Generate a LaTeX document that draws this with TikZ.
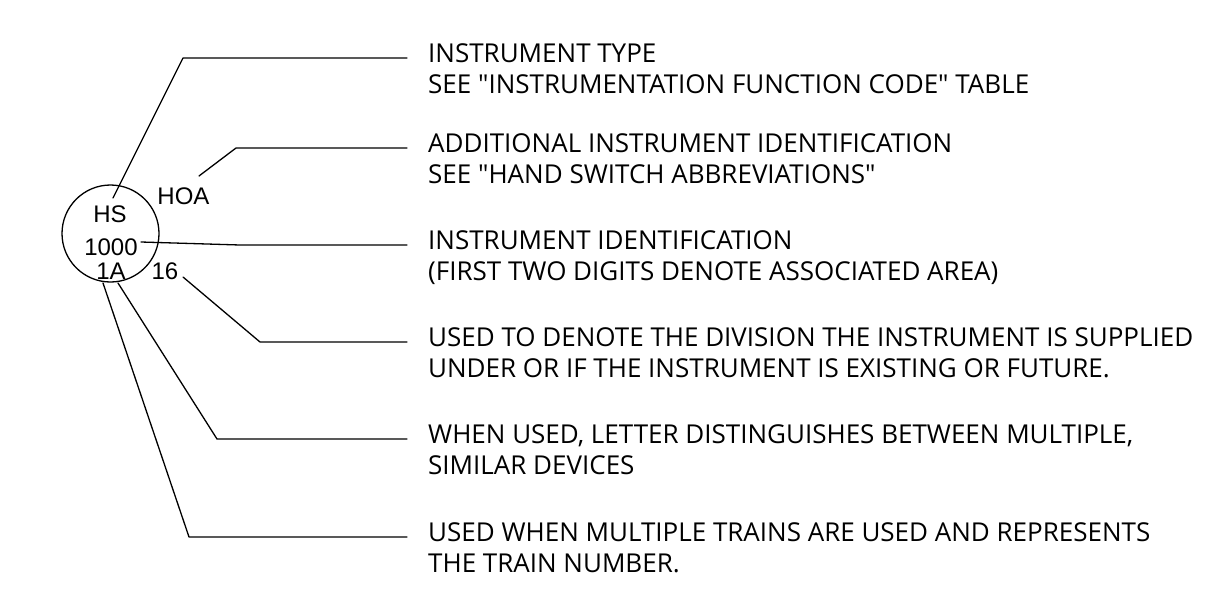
\documentclass[tikz,border=0pt]{standalone}
\usepackage{fontspec}
\setmainfont{Open Sans}[Ligatures=TeXOff]
\newfontfamily\arialfont{Liberation Sans}
\begin{document}
\begin{tikzpicture}[x=1pt,y=-1pt,
  lead/.style={line width=1.3pt,line cap=round,line join=round},
  tag/.style={font=\arialfont\fontsize{24}{28}\selectfont,inner sep=0pt,anchor=base,text height=17pt,text depth=0pt},
  desc/.style={font=\fontsize{26}{31.5}\selectfont,inner sep=0pt,anchor=base west,align=left}]
\useasboundingbox (0,0) rectangle (1209,592);
% bubble
\node[draw,circle,line width=1.3pt,minimum size=97pt,inner sep=0pt] (bubble) at (110.5,233.5) {};
\node[tag] (hs) at (110,222) {HS};
\node[tag] (hoa) at (183.5,204) {HOA};
\node[tag] (num) at (111,255.5) {1000};
\node[tag] (suf) at (111,279) {1A};
\node[tag] (div) at (165,279) {16};
% descriptions (base = last line)
\node[desc] (d1) at (428,93.5) {INSTRUMENT TYPE\\SEE "INSTRUMENTATION FUNCTION CODE" TABLE};
\node[desc] (d2) at (428,183.5) {ADDITIONAL INSTRUMENT IDENTIFICATION\\SEE "HAND SWITCH ABBREVIATIONS"};
\node[desc] (d3) at (428,280.5) {INSTRUMENT IDENTIFICATION\\(FIRST TWO DIGITS DENOTE ASSOCIATED AREA)};
\node[desc] (d4) at (428,377.5) {USED TO DENOTE THE DIVISION THE INSTRUMENT IS SUPPLIED\\UNDER OR IF THE INSTRUMENT IS EXISTING OR FUTURE.};
\node[desc] (d5) at (428,474.5) {WHEN USED, LETTER DISTINGUISHES BETWEEN MULTIPLE,\\SIMILAR DEVICES};
\node[desc] (d6) at (428,572.5) {USED WHEN MULTIPLE TRAINS ARE USED AND REPRESENTS\\THE TRAIN NUMBER.};
% connector points
\coordinate (s1) at (113,198); \coordinate (k1) at (183,58);  \coordinate (e1) at (407,58);
\coordinate (s2) at (199,176); \coordinate (k2) at (236,148); \coordinate (e2) at (407,148);
\coordinate (s3) at (141,242); \coordinate (k3) at (240,245); \coordinate (e3) at (407,245);
\coordinate (s4) at (183,277); \coordinate (k4) at (260,342); \coordinate (e4) at (407,342);
\coordinate (s5) at (118,283); \coordinate (k5) at (217,439); \coordinate (e5) at (407,439);
\coordinate (s6) at (103,283); \coordinate (k6) at (189,537); \coordinate (e6) at (407,537);
\draw[lead] (s1) -- (k1) -- (e1);
\draw[lead] (s2) -- (k2) -- (e2);
\draw[lead] (s3) -- (k3) -- (e3);
\draw[lead] (s4) -- (k4) -- (e4);
\draw[lead] (s5) -- (k5) -- (e5);
\draw[lead] (s6) -- (k6) -- (e6);
\end{tikzpicture}
\end{document}
